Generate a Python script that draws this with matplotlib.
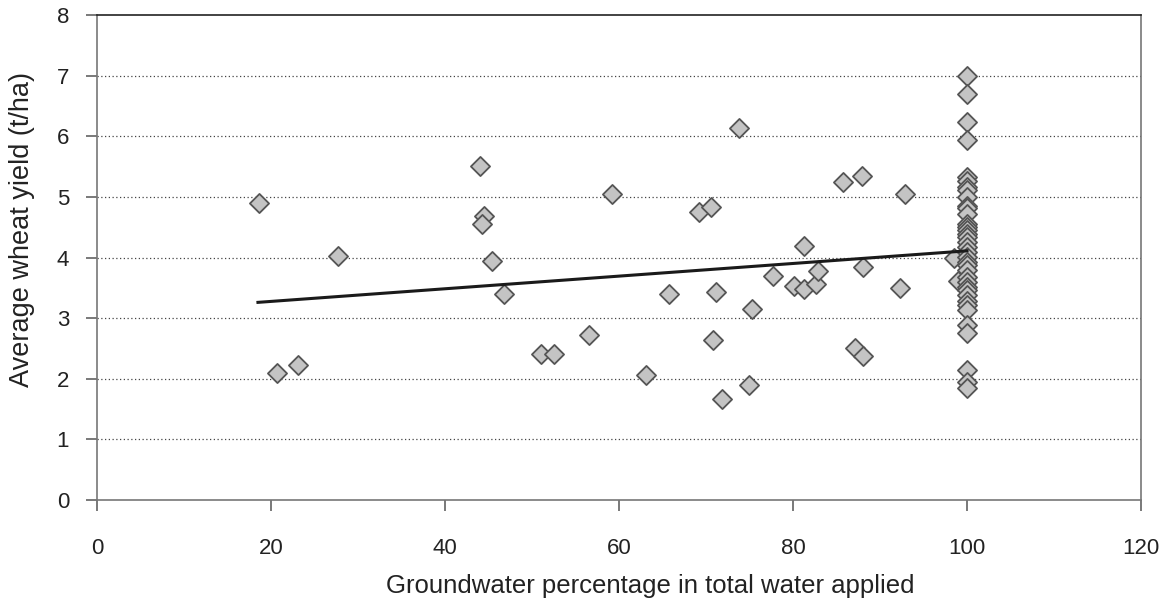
"""
Wheat yield vs groundwater share in total water applied.
"""

import matplotlib.pyplot as plt
import numpy as np

plt.rcParams["font.family"] = ["Liberation Sans", "DejaVu Sans"]

# --- Data -------------------------------------------------------------------
# scattered farms (groundwater share below 100 %)
gw_share = [
    18.6, 20.65, 23.1, 27.7, 44.06, 44.5, 44.2, 45.4, 46.8, 51.07,
    52.5, 56.6, 59.2, 63.1, 65.7, 69.2, 70.6, 70.8, 71.1, 71.8,
    73.8, 74.9, 75.3, 77.7, 80.1, 81.3, 81.3, 82.6, 82.9, 85.8,
    87.1, 87.9, 88.0, 88.1, 92.9, 92.3, 98.5, 99.0,
]
gw_yield = [
    4.90, 2.10, 2.22, 4.03, 5.51, 4.69, 4.55, 3.95, 3.39, 2.41,
    2.41, 2.72, 5.05, 2.07, 3.40, 4.75, 4.83, 2.64, 3.43, 1.67,
    6.14, 1.90, 3.15, 3.69, 3.53, 4.19, 3.48, 3.56, 3.77, 5.25,
    2.50, 5.34, 2.37, 3.85, 5.04, 3.50, 4.00, 3.62,
]
# farms using only groundwater (100 %)
full_gw_yield = [
    7.00, 6.69, 6.23, 5.94, 5.33, 5.26, 5.17, 5.11, 5.00, 4.85,
    4.81, 4.72, 4.56, 4.50, 4.46, 4.39, 4.34, 4.26, 4.17, 4.09,
    4.01, 3.93, 3.87, 3.79, 3.68, 3.60, 3.51, 3.46, 3.38, 3.29,
    3.21, 3.13, 2.88, 2.75, 2.14, 1.95, 1.84,
]
full_gw_share = [100.0] * len(full_gw_yield)

# linear trend line end points
trend_x = [18.5, 100.0]
trend_y = [3.26, 4.11]

x_ticks = [0, 20, 40, 60, 80, 100, 120]
y_ticks = [0, 1, 2, 3, 4, 5, 6, 7, 8]

# --- Plot --------------------------------------------------------------------
W, H = 1170, 604
fig = plt.figure(figsize=(W / 100, H / 100), dpi=100)
ax = fig.add_axes([97 / W, 1 - 500 / H, (1141 - 97) / W, (500 - 15) / H])

all_x = gw_share + full_gw_share
all_y = gw_yield + full_gw_yield
ax.scatter(all_x, all_y, marker="D", s=95, facecolor="#c4c4c4",
           edgecolor="#555555", linewidth=1.3, zorder=3)
ax.plot(trend_x, trend_y, color="#1a1a1a", linewidth=2.2, zorder=4)

ax.set_xlim(0, 120)
ax.set_ylim(0, 8)
ax.set_xticks(x_ticks)
ax.set_yticks(y_ticks)

# dotted gridlines at the inner y ticks only
for yv in y_ticks[1:-1]:
    ax.axhline(yv, color="#444444", linestyle=(0, (1, 2)), linewidth=0.9,
               zorder=1)

for side in ["left", "bottom", "right"]:
    ax.spines[side].set_color("#777777")
    ax.spines[side].set_linewidth(1.2)
ax.spines["top"].set_color("#222222")
ax.spines["top"].set_linewidth(1.2)

ax.tick_params(axis="both", direction="out", length=8, width=1.1,
               color="#555555", labelsize=16, labelcolor="#222222")
ax.tick_params(axis="x", pad=19)
ax.tick_params(axis="y", pad=12)

ax.set_xlabel("Groundwater percentage in total water applied", fontsize=18.5,
              color="#222222")
ax.xaxis.set_label_coords(0.53, -0.152)
ax.set_ylabel("Average wheat yield (t/ha)", fontsize=19.5, color="#222222")
ax.yaxis.set_label_coords(-0.059, 0.558)

plt.savefig("out.png", dpi=100)
plt.close(fig)
